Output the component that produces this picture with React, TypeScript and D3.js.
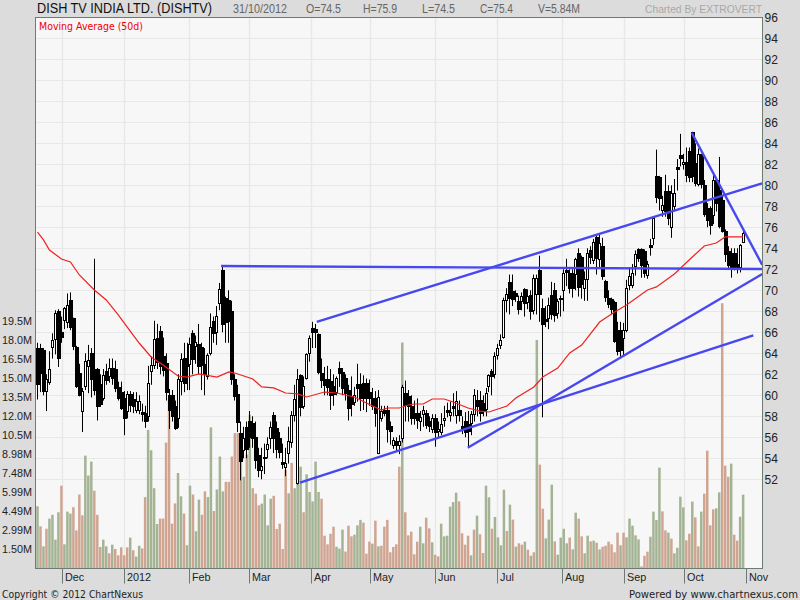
import { useRef, useEffect } from "react";
import * as d3 from "d3";

const WIDTH = 800;
const HEIGHT = 600;
const PLOT = { left: 35.5, right: 762.5, top: 17.5, bottom: 568.5 };

const opens = [
  64.5, 64.5, 64.3, 60.4, 61.3, 64.5, 65.3, 68.0, 66.0, 67.2, 67.0, 69.0, 67.3, 64.6, 62.1, 58.5, 60.8, 62.7, 64.0, 62.5,
  62.5, 61.0, 59.7, 62.3, 61.8, 62.6, 62.5, 60.7, 60.3, 59.7, 58.5, 60.1, 59.6, 58.5, 58.5, 58.4, 58.3, 58.0, 62.2, 62.8,
  65.4, 66.1, 63.7, 63.0, 60.0, 60.0, 58.9, 57.8, 61.3, 63.5, 62.9, 62.9, 65.9, 64.6, 64.8, 64.6, 62.9, 61.8, 64.0, 67.0,
  66.0, 68.8, 71.9, 69.2, 69.0, 68.0, 61.5, 60.1, 56.4, 54.8, 56.9, 57.5, 57.3, 56.0, 54.3, 52.8, 54.1, 54.8, 55.9, 58.1,
  56.8, 55.9, 53.6, 53.1, 54.5, 55.5, 58.1, 51.6, 61.9, 58.9, 61.6, 64.0, 66.4, 66.3, 65.8, 62.1, 61.5, 61.5, 61.3, 60.8,
  60.3, 62.6, 62.2, 61.6, 60.5, 59.9, 59.3, 61.0, 61.0, 61.1, 61.1, 60.3, 59.7, 59.7, 54.5, 57.8, 58.6, 58.6, 57.0, 55.2,
  55.6, 55.2, 55.8, 60.2, 59.9, 58.9, 58.3, 58.3, 57.5, 58.2, 58.3, 57.5, 56.8, 57.8, 56.5, 56.4, 57.6, 58.6, 58.1, 58.9,
  58.1, 58.6, 57.0, 57.5, 57.2, 57.3, 58.2, 59.5, 59.5, 59.2, 58.7, 60.9, 62.3, 62.0, 63.8, 64.7, 65.5, 69.0, 70.7, 69.9,
  69.7, 68.9, 68.9, 70.1, 68.8, 69.5, 68.1, 69.6, 71.9, 68.3, 67.2, 67.4, 69.5, 70.0, 67.8, 69.2, 70.0, 71.9, 71.6, 71.6,
  71.5, 73.5, 73.1, 70.1, 71.0, 73.8, 72.9, 75.0, 73.0, 74.2, 70.8, 69.2, 69.1, 68.8, 66.2, 66.2, 65.4, 66.2, 70.4, 70.5,
  72.3, 73.9, 73.9, 73.7, 71.5, 74.3, 74.9, 80.8, 80.7, 77.6, 79.4, 79.4, 76.0, 78.0, 81.7, 82.8, 82.0, 82.2, 83.2, 85.0,
  82.1, 80.0, 82.9, 80.0, 77.8, 77.8, 77.2, 80.5, 79.5, 78.6, 75.6, 73.7, 73.5, 73.5, 72.5, 72.2, 74.5,
];
const highs = [
  65.0, 64.9, 64.5, 62.0, 64.2, 65.9, 68.1, 68.2, 67.5, 68.4, 69.7, 69.8, 67.4, 64.7, 63.0, 60.7, 64.0, 64.8, 64.5, 73.0,
  62.6, 62.0, 62.5, 63.0, 63.5, 63.5, 63.3, 61.3, 61.3, 60.4, 60.4, 60.4, 60.3, 60.3, 60.0, 59.2, 59.0, 62.8, 63.7, 67.1,
  66.8, 66.6, 65.5, 64.0, 60.6, 60.5, 59.5, 62.0, 64.0, 65.0, 65.0, 65.5, 66.2, 65.7, 66.8, 65.0, 64.5, 64.0, 67.8, 67.5,
  68.5, 70.7, 72.4, 69.4, 70.0, 69.0, 62.0, 61.0, 57.5, 57.0, 57.5, 58.5, 58.0, 57.5, 55.0, 55.0, 55.4, 56.0, 57.5, 58.4,
  57.5, 56.5, 55.4, 55.0, 57.0, 58.5, 61.0, 62.5, 62.0, 61.8, 64.0, 65.7, 67.0, 66.8, 65.9, 63.5, 62.7, 62.8, 62.5, 62.0,
  61.8, 63.2, 62.6, 62.0, 61.0, 61.8, 60.8, 63.0, 62.1, 61.9, 61.6, 61.5, 60.7, 60.4, 60.5, 59.0, 59.0, 59.0, 57.5, 56.0,
  56.0, 56.2, 61.0, 61.4, 60.5, 60.0, 59.5, 59.7, 58.5, 59.0, 58.6, 58.0, 58.2, 58.2, 57.5, 58.3, 59.0, 59.3, 59.4, 60.2,
  60.4, 59.5, 58.0, 58.4, 58.5, 58.5, 60.6, 60.5, 60.4, 60.0, 60.7, 62.0, 62.5, 64.1, 64.9, 65.8, 69.3, 70.2, 71.5, 71.5,
  70.0, 69.5, 69.8, 70.2, 70.1, 70.0, 71.5, 71.5, 73.3, 69.2, 68.5, 69.3, 70.8, 70.7, 69.2, 69.5, 72.0, 73.0, 72.0, 72.0,
  73.1, 74.0, 73.3, 71.8, 74.0, 74.2, 74.9, 75.2, 75.4, 75.0, 71.0, 70.0, 69.3, 69.0, 67.0, 67.0, 66.9, 71.0, 72.2, 72.5,
  73.8, 74.0, 74.0, 73.9, 72.8, 74.9, 77.0, 83.4, 80.9, 79.0, 81.0, 80.0, 80.0, 80.6, 82.5, 84.9, 83.0, 83.6, 83.6, 85.1,
  84.0, 83.5, 83.0, 80.5, 78.3, 78.0, 81.2, 80.6, 82.7, 79.0, 75.8, 74.2, 74.0, 74.0, 74.0, 74.4, 75.9,
];
const lows = [
  59.6, 60.3, 60.0, 58.5, 61.0, 63.5, 63.9, 62.7, 65.0, 66.3, 66.4, 66.2, 64.3, 60.7, 59.9, 56.5, 60.5, 60.2, 59.8, 60.0,
  57.6, 58.9, 59.5, 61.0, 61.2, 61.0, 60.3, 59.5, 58.6, 56.2, 57.8, 58.4, 58.3, 58.3, 58.2, 57.5, 56.9, 57.5, 61.0, 62.5,
  62.5, 62.0, 61.8, 59.5, 56.8, 57.5, 56.7, 56.9, 60.0, 60.3, 60.5, 60.5, 62.0, 63.0, 62.0, 60.5, 60.0, 61.5, 63.8, 65.0,
  64.8, 68.1, 66.0, 65.0, 65.0, 61.0, 59.5, 56.5, 51.9, 54.0, 54.0, 55.0, 55.0, 53.0, 52.2, 52.0, 52.5, 54.0, 54.9, 54.5,
  54.0, 54.0, 53.0, 52.3, 53.5, 55.0, 57.5, 51.5, 58.0, 58.7, 61.5, 63.2, 64.5, 64.5, 62.0, 60.7, 60.0, 60.0, 58.6, 59.0,
  60.0, 60.8, 60.0, 59.5, 57.6, 58.0, 59.0, 59.4, 58.5, 58.6, 58.4, 59.0, 58.6, 57.0, 54.4, 57.5, 58.0, 55.5, 55.3, 54.9,
  54.7, 54.4, 55.5, 57.5, 57.5, 57.2, 57.2, 56.8, 56.6, 57.0, 56.8, 56.5, 56.4, 55.1, 56.0, 56.2, 57.0, 57.9, 57.5, 58.0,
  57.3, 57.5, 56.3, 56.0, 55.1, 56.2, 57.5, 58.0, 57.5, 58.0, 58.0, 60.3, 60.0, 61.6, 63.4, 64.4, 65.4, 67.9, 67.7, 68.5,
  68.9, 67.7, 68.1, 67.5, 68.2, 67.2, 67.7, 67.7, 67.0, 57.9, 66.5, 66.3, 67.2, 67.0, 67.3, 67.5, 68.0, 70.4, 69.7, 69.3,
  70.0, 69.4, 69.2, 69.0, 69.0, 72.5, 72.5, 71.5, 72.2, 71.0, 68.9, 68.3, 67.7, 65.0, 63.8, 63.5, 63.8, 66.0, 70.0, 70.2,
  71.4, 72.7, 71.2, 71.2, 71.1, 73.3, 74.3, 78.3, 77.6, 77.0, 77.0, 76.2, 75.0, 77.6, 79.5, 81.8, 81.5, 80.3, 80.3, 80.3,
  79.9, 79.9, 79.7, 77.0, 76.0, 75.3, 76.3, 77.5, 75.9, 75.5, 72.7, 72.0, 71.2, 71.9, 71.6, 71.7, 74.5,
];
const closes = [
  61.1, 62.1, 60.4, 61.5, 62.5, 65.2, 67.8, 63.5, 65.5, 68.3, 68.6, 66.4, 64.6, 60.9, 60.0, 60.4, 63.2, 63.3, 61.5, 60.5,
  59.0, 59.1, 61.9, 61.4, 62.6, 61.6, 60.7, 59.7, 58.8, 57.8, 60.1, 59.1, 58.9, 59.4, 59.4, 58.2, 57.5, 61.1, 62.8, 65.3,
  63.1, 62.8, 62.4, 60.2, 58.6, 58.0, 56.8, 61.5, 63.4, 61.1, 62.7, 64.8, 63.4, 65.0, 62.7, 62.9, 61.9, 63.8, 66.5, 65.9,
  67.5, 70.1, 66.8, 66.9, 67.0, 61.5, 59.9, 57.4, 53.7, 55.9, 54.8, 56.0, 55.9, 53.8, 52.9, 53.2, 54.0, 55.3, 56.9, 55.9,
  54.8, 54.6, 53.4, 53.5, 55.6, 58.1, 59.6, 61.5, 58.9, 60.8, 63.9, 65.4, 66.0, 66.0, 62.2, 61.4, 60.9, 60.7, 60.0, 60.0,
  61.6, 62.1, 60.7, 60.2, 58.8, 59.1, 60.0, 60.6, 59.7, 59.7, 59.7, 59.7, 58.9, 58.3, 59.8, 58.5, 58.3, 56.8, 56.5, 55.7,
  55.2, 55.6, 60.7, 59.1, 58.9, 57.8, 57.8, 57.6, 57.9, 58.6, 57.2, 57.0, 57.8, 56.5, 56.7, 57.2, 57.8, 58.4, 58.4, 58.7,
  59.4, 58.1, 56.8, 56.5, 56.5, 58.2, 60.0, 58.9, 58.3, 58.4, 60.2, 61.9, 61.8, 63.7, 64.5, 65.2, 69.0, 69.6, 69.2, 69.1,
  69.4, 68.1, 69.4, 68.8, 69.4, 68.0, 71.1, 71.1, 69.6, 66.8, 67.0, 68.6, 67.7, 67.6, 68.9, 69.1, 71.6, 71.7, 70.2, 70.2,
  72.9, 70.3, 70.5, 71.0, 73.5, 73.1, 74.6, 73.0, 74.5, 71.3, 69.3, 68.6, 68.1, 65.1, 64.2, 64.3, 66.2, 70.2, 71.3, 71.6,
  73.4, 73.0, 72.4, 71.6, 72.5, 74.1, 76.8, 78.8, 78.7, 78.1, 77.5, 76.8, 79.2, 79.2, 81.5, 82.5, 82.2, 81.0, 80.7, 80.8,
  80.2, 82.9, 80.0, 77.2, 76.7, 76.2, 80.5, 78.3, 76.1, 75.6, 73.4, 72.4, 72.2, 72.2, 72.0, 74.3, 75.4,
];

// volume in millions, with g / s for the bar colour of each day
const volumes = [
  4.87, 3.29, 1.71, 3.1, 3.9, 4.2, 2.24, 4.4, 6.5, 1.87, 4.45, 4.3, 4.8, 2.97, 5.8, 4.16, 8.87, 7.3, 8.4, 6.1,
  4.2, 1.66, 2.24, 1.71, 1.16, 1.84, 1.5, 1.0, 1.63, 1.0, 1.63, 2.4, 1.4, 0.9, 1.76, 1.55, 5.6, 10.9, 9.3, 6.3,
  3.47, 3.9, 3.9, 9.9, 13.4, 3.5, 5.1, 7.5, 5.66, 4.3, 1.8, 6.5, 5.8, 2.9, 5.4, 4.2, 6.05, 5.6, 11.1, 4.5,
  6.2, 8.8, 6.05, 6.8, 6.8, 8.8, 10.65, 10.65, 10.65, 7.2, 8.95, 12.1, 6.3, 5.87, 4.95, 5.08, 5.8, 3.37, 5.47, 5.7,
  3.08, 3.5, 1.5, 7.76, 5.9, 8.3, 6.3, 11.3, 8, 4.4, 7.4, 6, 5.26, 8.4, 6, 5.47, 2.55, 1.87, 2.7, 3.26,
  1.68, 1.53, 3.03, 1.3, 3.34, 2.5, 2.63, 3.37, 3.8, 3.58, 1.13, 2.08, 1.92, 3.74, 1.71, 1.76, 3.26, 3.8, 1.24, 1.66,
  1.87, 8.0, 17.8, 4.4, 2.58, 2.87, 1.08, 2.08, 3.26, 1.95, 3.97, 3.13, 2.03, 1.05, 0.92, 3.5, 2.5, 2.55, 4.84, 5.2,
  5.95, 5.26, 2.74, 1.84, 2.55, 1.0, 3.03, 4.13, 2.66, 1.18, 6.5, 5.58, 3.1, 4.03, 2.42, 1.79, 6.18, 2.92, 5.0, 3.82,
  1.68, 1.95, 1.84, 2.08, 1.45, 0.97, 1.24, 18, 8.16, 4.68, 2.34, 3.82, 6.58, 2.1, 1.05, 2.4, 3.1, 1.95, 2.4, 1.47,
  4.37, 3.9, 2.5, 1.16, 2.55, 2.1, 2.16, 2.0, 1.47, 1.68, 1.76, 2.08, 1.87, 1.24, 2.79, 1.79, 2.79, 2.42, 3.9, 3.34,
  2.58, 2.26, 0.13, 0.97, 1.29, 2.47, 4.45, 3.79, 7.92, 4.47, 2.97, 2.79, 2.32, 1.16, 1.6, 5.63, 4.79, 2.18, 2.71, 5.24,
  4.0, 1.71, 4.45, 5.87, 9.26, 3.37, 4.63, 4.71, 5.97, 20.9, 8.08, 7.2, 8.24, 2.63, 2.16, 4.05, 5.79,
];
const volumeDirs = [
  "gsgsggggsg", "ggssssgggs", "ssggsgssss", "sgsggssggg", "gssssssggs", "ggsggssggs",
  "gggssssssg", "sgsssggggs", "ssssgsgggs", "gggggsssss", "gggsssgggs", "ssgsgsssss",
  "ssgsssssgg", "ssgssggggg", "gssssgsgss", "ggsggggsgs", "gssgsgsgss", "gggsggggsg",
  "gssggsgsgs", "sssssgsggg", "ggsssggggs", "sgsggggssg", "ssgssssggs", "ssgssgg",
].join("");

// 50 day moving average, read at these trading days
const maDays = [
  0, 2, 4, 8, 11, 14, 19, 23, 27, 32, 34, 38, 42, 47, 50, 54, 60, 64, 66, 72, 75, 79, 83, 87, 90, 96, 100, 106, 110, 115,
  117, 121, 124, 126, 129, 132, 136, 139, 144, 148, 151, 157, 160, 166, 169, 174, 178, 182, 188, 193, 197, 204, 207, 213,
  219, 223, 227, 230, 236,
];
const maValues = [
  75.55, 74.8, 73.84, 72.98, 72.7, 71.46, 70.03, 69.08, 67.65, 65.74, 64.98, 63.65, 62.89, 61.84, 61.74, 62.03, 61.74,
  62.22, 62.12, 61.55, 60.8, 60.7, 60.22, 60.13, 59.84, 60.31, 60.22, 59.84, 59.27, 58.6, 58.79, 58.79, 59.08, 59.17,
  59.17, 59.65, 59.65, 59.36, 58.79, 58.5, 58.41, 58.98, 59.74, 60.79, 61.74, 62.6, 64.03, 64.79, 66.98, 67.93, 68.6,
  70.03, 70.32, 71.55, 73.17, 74.22, 74.5, 75.08, 75.08,
];

// hand drawn trend lines as [day, price] pairs
const trendLines = [
  [[61.4, 72.31], [242.3, 72.03]],
  [[93.4, 67.0], [242.3, 80.19]],
  [[87.8, 51.68], [239.4, 65.71]],
  [[143.9, 55.01], [242.4, 71.55]],
  [[218.8, 85.01], [242.4, 72.41]],
];

const priceTicks = d3.range(52, 97, 2);
const volumeTicks = [1.5, 2.99, 4.49, 5.99, 7.48, 8.98, 10.5, 12.0, 13.5, 15.0, 16.5, 18.0, 19.5];
const monthDays = [8.4, 29.1, 50.8, 70.9, 91.6, 111.4, 133.1, 153.8, 175.6, 196.3, 216.4, 237.1];
const monthLabels = ["Dec", "2012", "Feb", "Mar", "Apr", "May", "Jun", "Jul", "Aug", "Sep", "Oct", "Nov"];
const headerStats = ["31/10/2012", "O=74.5", "H=75.9", "L=74.5", "C=75.4", "V=5.84M"];
const headerStatX = [233, 306, 363, 422, 480, 538];
const headerStatW = [54, 35, 34, 33, 33, 42];

const FONT = "'Liberation Sans', Arial, sans-serif";
const SMALL_FONT = "'DejaVu Sans', Verdana, sans-serif";

export default function App() {
  const svgRef = useRef<SVGSVGElement>(null);

  useEffect(() => {
    const svg = d3.select(svgRef.current);
    svg.selectAll("*").remove();

    const days = d3.range(closes.length);
    const x = d3.scaleLinear().domain([0, 236]).range([37.5, 743.14]);
    const y = d3.scaleLinear().domain([52, 96]).range([479.3, 17.3]);
    const yVol = d3.scaleLinear().domain([0, 19.5]).range([568, 321]);

    svg.append("rect").attr("width", WIDTH).attr("height", HEIGHT).attr("fill", "#dcdcdc");
    svg.append("rect")
      .attr("x", PLOT.left)
      .attr("y", PLOT.top)
      .attr("width", PLOT.right - PLOT.left)
      .attr("height", PLOT.bottom - PLOT.top)
      .attr("fill", "#f7f7f7");

    svg.append("defs").append("clipPath").attr("id", "plot").append("rect")
      .attr("x", PLOT.left)
      .attr("y", PLOT.top)
      .attr("width", PLOT.right - PLOT.left)
      .attr("height", PLOT.bottom - PLOT.top);

    const crisp = (v: number) => Math.floor(v) + 0.5;

    // Grid lines
    svg.append("g").selectAll("line")
      .data(priceTicks.filter((t) => t < 96))
      .join("line")
      .attr("x1", PLOT.left)
      .attr("x2", PLOT.right)
      .attr("y1", (t) => crisp(y(t)))
      .attr("y2", (t) => crisp(y(t)))
      .attr("stroke", "#e8e8e8");
    svg.append("g").selectAll("line")
      .data(monthDays.slice(0, -1))
      .join("line")
      .attr("x1", (d) => crisp(x(d)))
      .attr("x2", (d) => crisp(x(d)))
      .attr("y1", PLOT.top)
      .attr("y2", PLOT.bottom)
      .attr("stroke", "#e8e8e8")
      .attr("stroke-width", 1.4);

    // Volume bars
    svg.append("g").selectAll("rect")
      .data(days)
      .join("rect")
      .attr("x", (i) => x(i) - 1.25)
      .attr("y", (i) => yVol(volumes[i]))
      .attr("width", 2.5)
      .attr("height", (i) => yVol(0) - yVol(volumes[i]))
      .attr("fill", (i) => (volumeDirs[i] === "g" ? "#a4b394" : "#cfa592"));

    // Candles, black bodies come out a pixel wider than hollow ones
    const candles = svg.append("g");
    candles.selectAll("line")
      .data(days)
      .join("line")
      .attr("x1", (i) => crisp(x(i)))
      .attr("x2", (i) => crisp(x(i)))
      .attr("y1", (i) => y(highs[i]))
      .attr("y2", (i) => y(lows[i]))
      .attr("stroke", "#000");
    candles.selectAll("rect")
      .data(days)
      .join("rect")
      .attr("x", (i) => crisp(x(i)) - 1)
      .attr("y", (i) => crisp(y(Math.max(opens[i], closes[i]))))
      .attr("width", (i) => (closes[i] >= opens[i] ? 2 : 3))
      .attr("height", (i) => Math.max(1, Math.round(Math.abs(y(opens[i]) - y(closes[i])))))
      .attr("fill", (i) => (closes[i] >= opens[i] ? "#fff" : "#000"))
      .attr("stroke", "#000");

    // Moving average
    const maLine = d3.line<number>()
      .x((d) => x(maDays[d]))
      .y((d) => y(maValues[d]));
    svg.append("path")
      .attr("d", maLine(d3.range(maDays.length)))
      .attr("fill", "none")
      .attr("stroke", "#f02020")
      .attr("stroke-width", 1.2);

    // Trend lines
    const trendLine = d3.line<number[]>()
      .x((d) => x(d[0]))
      .y((d) => y(d[1]));
    svg.append("g")
      .attr("clip-path", "url(#plot)")
      .selectAll("path")
      .data(trendLines)
      .join("path")
      .attr("d", (d) => trendLine(d))
      .attr("fill", "none")
      .attr("stroke", "#4848f0")
      .attr("stroke-width", 2.4);

    // Frame
    svg.append("rect")
      .attr("x", PLOT.left)
      .attr("y", PLOT.top)
      .attr("width", PLOT.right - PLOT.left)
      .attr("height", PLOT.bottom - PLOT.top)
      .attr("fill", "none")
      .attr("stroke", "#6e7b74");

    // Price axis
    svg.append("g")
      .attr("transform", `translate(${PLOT.right},0)`)
      .call(d3.axisRight(y).tickValues(priceTicks).tickSize(0).tickPadding(2).tickFormat((d) => String(d)))
      .call((a) => a.select(".domain").remove())
      .call((a) => a.selectAll("text").attr("fill", "#222").attr("font-size", "12px").attr("font-family", FONT));

    // Volume axis
    svg.append("g")
      .attr("transform", "translate(32,0)")
      .call(
        d3.axisLeft(yVol)
          .tickValues(volumeTicks)
          .tickSize(0)
          .tickPadding(0)
          .tickFormat((d) => (+d < 10 ? (+d).toFixed(2) : (+d).toFixed(1)) + "M")
      )
      .call((a) => a.select(".domain").remove())
      .call((a) => a.selectAll("text").attr("fill", "#222").attr("font-size", "10.8px").attr("font-family", FONT));

    // Month axis
    svg.append("g")
      .attr("transform", `translate(0,${PLOT.bottom})`)
      .call(d3.axisBottom(x).tickValues(monthDays).tickSize(15).tickFormat((_, i) => monthLabels[i]))
      .call((a) => a.select(".domain").remove())
      .call((a) => a.selectAll<SVGGElement, number>(".tick").attr("transform", (d) => `translate(${crisp(x(d))},0)`))
      .call((a) => a.selectAll("line").attr("stroke", "#6e7b74").attr("x1", 0).attr("x2", 0))
      .call((a) =>
        a.selectAll("text")
          .attr("x", 2.5)
          .attr("y", 9.5)
          .attr("dy", "0.32em")
          .attr("text-anchor", "start")
          .attr("fill", "#222")
          .attr("font-size", "10.8px")
          .attr("font-family", FONT)
      );

    // Header and footer text, squeezed to the widths in the picture
    const label = (
      text: string,
      px: number,
      py: number,
      size: number,
      fill: string,
      family: string,
      length: number
    ) =>
      svg.append("text")
        .attr("x", px)
        .attr("y", py)
        .attr("font-size", size)
        .attr("fill", fill)
        .attr("font-family", family)
        .attr("textLength", length)
        .attr("lengthAdjust", "spacingAndGlyphs")
        .text(text);

    label("DISH TV INDIA LTD. (DISHTV)", 37, 13, 14, "#111", FONT, 175);
    headerStats.forEach((s, i) => label(s, headerStatX[i], 13, 12, "#666", FONT, headerStatW[i]));
    label("Charted By EXTROVERT", 645, 13, 10.4, "#a8a8a8", FONT, 117);
    label("Moving Average (50d)", 39, 30, 10, "#f00000", SMALL_FONT, 104);
    label("Copyright © 2012 ChartNexus", 2, 598, 10, "#222", SMALL_FONT, 141);
    label("Powered by www.chartnexus.com", 629, 598, 10, "#222", SMALL_FONT, 169);
  }, []);

  return (
    <svg
      ref={svgRef}
      width={WIDTH}
      height={HEIGHT}
      viewBox={`0 0 ${WIDTH} ${HEIGHT}`}
      style={{ position: "absolute", left: 0, top: 0 }}
    />
  );
}
